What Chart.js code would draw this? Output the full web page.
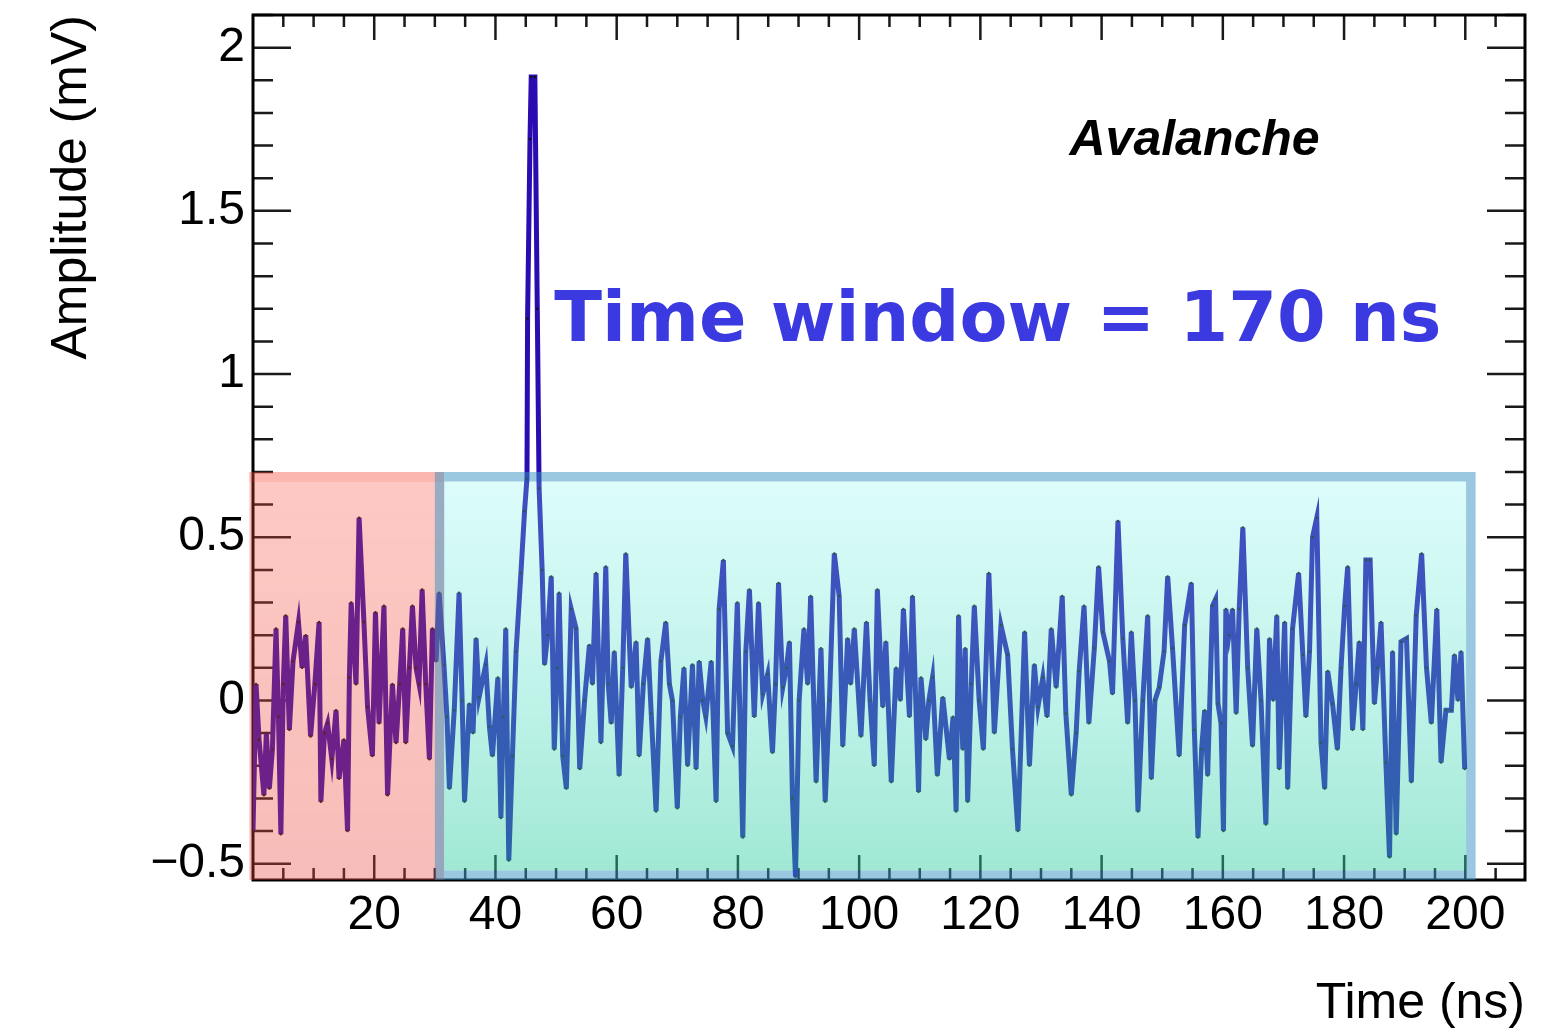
<!DOCTYPE html>
<html>
<head>
<meta charset="utf-8">
<script src="https://cdn.jsdelivr.net/npm/chart.js@4.4.1/dist/chart.umd.min.js"></script>
<style>
  html, body { margin: 0; padding: 0; background: #ffffff; }
  #wrap { width: 1568px; height: 1029px; position: relative; }
</style>
</head>
<body>
<div id="wrap"><canvas id="c"></canvas></div>
<script>
// ---------------- DATA ----------------
const timeNs = [
  0, 0.5, 1.0, 1.8, 2.2, 2.7, 3.2, 3.8, 4.2, 4.6, 5.0, 5.4, 6.0, 6.6, 7.5, 8.1, 8.7, 9.5, 10.2, 10.9,
  11.2, 11.8, 12.3, 13.0, 13.7, 14.2, 15.0, 15.6, 15.9, 16.2, 17.0, 17.5, 18.3, 18.9, 19.7, 20.2, 20.8, 21.6, 22.2, 23.0,
  23.6, 24.2, 24.7, 25.2, 25.8, 26.3, 26.9, 27.4, 27.9, 28.5, 29.1, 29.6, 30.2,
  30.7, 31.5, 32.0, 32.4, 33.2, 34.0, 34.5, 34.9, 35.7, 36.3, 36.8, 37.3, 38.4, 39.0, 39.5, 40.4, 40.9, 41.3, 41.7, 42.2,
  42.8, 43.4, 44.2, 44.8, 45.2, 45.3, 45.7, 45.9, 46.5, 46.9, 47.2, 47.7, 48.1, 48.6, 49.2, 49.7, 50.2, 50.5, 51.1, 51.7,
  52.5, 53.3, 53.9, 54.7, 55.5, 56.0, 56.6, 57.4, 58.2, 58.6, 59.1, 59.6, 60.4, 61.0, 61.5, 62.4, 63.2, 63.7, 64.4, 65.1,
  65.7, 66.5, 67.3, 68.1, 68.7, 69.2, 70.0, 70.5, 71.1, 71.7, 72.5, 73.1, 73.6, 74.2, 74.7, 75.6, 76.4, 76.9, 77.6, 78.3,
  79.1, 79.9, 80.8, 81.3, 81.9, 82.7, 83.4, 84.1, 84.9, 85.7, 86.2, 86.7, 87.4, 88.0, 88.5, 89.0, 89.5, 90.1, 90.9, 91.5,
  92.0, 92.9, 93.7, 94.4, 95.1, 95.9, 96.7, 97.3, 98.1, 98.6, 99.2, 100.3, 101.2, 101.8, 102.5, 103.0,
  103.9, 104.4, 105.3, 106.1, 106.8, 107.3, 108.3, 108.8, 109.8, 110.2, 111.0, 111.5, 112.1, 112.9, 113.8, 114.9, 115.5, 116.0, 116.4, 117.1,
  117.5, 117.9, 118.5, 119.0, 119.8, 120.5, 121.4, 122.3, 123.4, 124.5, 125.3, 126.2, 127.3, 128.1, 128.9, 129.5, 130.3, 131.0, 131.7, 132.5,
  133.5, 134.1, 135.0, 135.8, 136.3, 137.1, 137.9, 138.8, 139.5, 140.2, 141.3, 141.8, 142.7, 143.5, 144.3, 144.9, 145.5, 146.0, 146.8, 147.6,
  148.2, 148.8, 149.5, 150.3, 150.9, 151.7, 152.8, 153.7, 154.8, 155.3, 155.9, 156.5, 157.0, 157.5,
  158.3, 158.8, 159.2, 159.7, 160.1, 160.5, 161.0, 161.6, 162.2, 162.7, 163.3, 164.1, 164.9, 165.6, 166.3, 167.1, 167.7, 168.3, 168.9, 169.3,
  170.2, 170.7, 171.5, 172.5, 173.2, 173.7, 174.3, 174.8, 175.5, 176.2, 176.8, 177.3, 178.1, 178.9, 179.5, 180.1, 180.6, 181.4, 182.0, 182.5,
  183.1, 183.6, 184.3, 185.0, 185.5, 186.1, 186.9, 187.5, 188.0, 188.6, 189.4, 190.3, 191.1, 191.9, 192.8, 193.6, 194.4, 195.3, 196.0, 196.8,
  197.7, 198.2, 198.8, 199.3, 199.9
];
const amplitudeMv = [
  -0.40, 0.05, -0.12, -0.29, -0.10, -0.27, -0.15, 0.22, -0.05, -0.41, 0.05, 0.26, -0.09, 0.12, 0.24, 0.10, 0.20, -0.11, 0.05, 0.24,
  -0.31, -0.10, -0.07, -0.18, -0.03, -0.24, -0.12, -0.40, 0.07, 0.30, 0.05, 0.56, 0.24, -0.02, -0.17, 0.27, -0.07, 0.29, -0.29, 0.05,
  -0.13, 0.05, 0.22, -0.13, 0.10, 0.29, 0.10, 0.05, 0.34, 0.05, -0.18, 0.22, 0.12,
  0.33, 0.11, -0.05, -0.27, -0.03, 0.33, 0.00, -0.31, -0.01, -0.10, 0.19, 0.01, 0.11, -0.08, -0.17, 0.07, -0.36, -0.05, 0.22, -0.49,
  -0.17, 0.15, 0.39, 0.58, 0.68, 1.17, 1.72, 1.91, 1.91, 1.20, 0.65, 0.40, 0.11, 0.20, 0.38, -0.15, 0.10, 0.33, -0.17, -0.27,
  0.28, 0.22, -0.21, 0.00, 0.17, 0.05, 0.39, -0.13, 0.41, 0.05, -0.07, 0.15, -0.23, 0.10, 0.45, 0.04, 0.18, -0.17, 0.05, 0.19,
  -0.04, -0.34, 0.12, 0.24, 0.05, 0.00, -0.33, -0.05, 0.10, -0.20, 0.11, -0.21, 0.12, 0.00, -0.05, 0.12, -0.31, 0.28, 0.43, -0.10,
  -0.14, 0.30, -0.42, 0.15, 0.34, -0.05, 0.30, 0.02, 0.08, -0.16, 0.05, 0.36, 0.04, 0.10, 0.18, -0.30, -0.54, 0.00, 0.22, 0.05,
  0.32, -0.25, 0.16, -0.31, 0.00, 0.45, 0.32, -0.14, 0.19, 0.05, 0.22, -0.11, 0.24, 0.00, -0.20, 0.34,
  -0.02, 0.18, -0.25, 0.10, 0.00, 0.28, -0.05, 0.32, -0.28, 0.07, -0.12, 0.00, 0.07, -0.23, 0.01, -0.18, -0.05, -0.34, 0.26, -0.15,
  0.16, -0.31, 0.05, 0.29, 0.00, -0.15, 0.39, -0.10, 0.23, 0.14, -0.15, -0.40, 0.21, -0.20, 0.11, -0.02, 0.07, -0.05, 0.22, 0.04,
  0.32, -0.04, -0.29, -0.10, 0.09, 0.29, -0.07, 0.16, 0.41, 0.21, 0.12, 0.02, 0.55, 0.19, -0.07, 0.21, 0.00, -0.34, 0.00, 0.26,
  -0.24, 0.00, 0.04, 0.15, 0.38, 0.16, -0.17, 0.23, 0.36, -0.09, -0.42, -0.15, -0.03, -0.23,
  0.29, 0.31, -0.01, -0.07, -0.40, 0.28, 0.20, 0.28, -0.04, 0.28, 0.53, 0.10, -0.14, 0.22, 0.00, -0.38, 0.19, 0.00, 0.26, -0.21,
  0.24, -0.27, 0.22, 0.39, 0.14, -0.05, 0.15, 0.50, 0.56, -0.13, -0.27, 0.09, -0.01, -0.15, 0.10, 0.29, 0.41, -0.09, 0.05, 0.18,
  -0.09, 0.43, 0.43, -0.01, 0.10, 0.24, -0.19, -0.48, 0.15, -0.41, 0.18, 0.19, -0.25, 0.26, 0.45, 0.10, -0.07, 0.28, -0.19, -0.03,
  -0.03, 0.14, 0.00, 0.15, -0.21
];
const xTickLabels = [20, 40, 60, 80, 100, 120, 140, 160, 180, 200];
const yTickLabels = [-0.5, 0, 0.5, 1, 1.5, 2];
const xRange = [0, 209.85];
const yRange = [-0.55, 2.1];
// highlighted windows (data units: ns, mV)
const baselineWindow = [-0.6, 31.5, -0.55, 0.70];
const signalWindow = [30.0, 201.7, -0.55, 0.70];
// annotation anchors (data units)
const avalancheText = { label: 'Avalanche', t: 134.7, v: 1.67 };
const windowText = { label: 'Time window = 170 ns', t: 49.7, v: 1.10 };

// ---------------- CHART ----------------
const points = timeNs.map((t, i) => ({ x: t, y: amplitudeMv[i] }));
const fmt = v => (v < 0 ? '\u2212' + String(Math.abs(v)) : String(v));

const deco = {
  id: 'deco',
  beforeDatasetsDraw(chart) {
    const { ctx, chartArea: a, scales: { x, y } } = chart;
    ctx.save();
    ctx.strokeStyle = '#1a1a1a';
    ctx.lineWidth = 2.5;
    ctx.beginPath();
    for (let i = 1; i * 5 < xRange[1]; i++) {
      const t = i * 5;
      const px = x.getPixelForValue(t);
      const len = (t % 20 === 0) ? 25 : 12;
      ctx.moveTo(px, a.bottom); ctx.lineTo(px, a.bottom - len);
      ctx.moveTo(px, a.top); ctx.lineTo(px, a.top + len);
    }
    for (let i = 0; ; i++) {
      const v = -0.5 + i * 0.1;
      if (v > yRange[1] + 1e-9) break;
      const py = y.getPixelForValue(v);
      const len = (i % 5 === 0) ? 38 : 20;
      ctx.moveTo(a.left, py); ctx.lineTo(a.left + len, py);
      ctx.moveTo(a.right, py); ctx.lineTo(a.right - len, py);
    }
    ctx.stroke();
    ctx.lineWidth = 3;
    ctx.strokeStyle = '#000';
    ctx.strokeRect(a.left, a.top, a.right - a.left, a.bottom - a.top);
    ctx.restore();
  },
  afterDatasetsDraw(chart) {
    const { ctx, scales: { x, y } } = chart;
    ctx.save();
    // baseline (pink) window
    {
      const x0 = x.getPixelForValue(baselineWindow[0]), x1 = x.getPixelForValue(baselineWindow[1]);
      const y1 = y.getPixelForValue(baselineWindow[3]), y0 = y.getPixelForValue(baselineWindow[2]);
      const g = ctx.createLinearGradient(0, y1, 0, y0);
      g.addColorStop(0, 'rgba(248,75,58,0.30)');
      g.addColorStop(1, 'rgba(232,70,60,0.36)');
      ctx.fillStyle = g;
      ctx.fillRect(x0, y1, x1 - x0, y0 - y1);
      ctx.fillStyle = 'rgba(248,75,58,0.15)';
      ctx.fillRect(x0, y1, x1 - x0, 10);
    }
    // signal (teal) window
    {
      const x0 = x.getPixelForValue(signalWindow[0]), x1 = x.getPixelForValue(signalWindow[1]);
      const y1 = y.getPixelForValue(signalWindow[3]), y0 = y.getPixelForValue(signalWindow[2]);
      const b = 9.5;
      const g = ctx.createLinearGradient(0, y1 + b, 0, y0 - b);
      g.addColorStop(0, 'rgba(126,244,237,0.27)');
      g.addColorStop(1, 'rgba(44,204,160,0.45)');
      ctx.fillStyle = g;
      ctx.fillRect(x0 + b, y1 + b, x1 - x0 - 2 * b, y0 - y1 - 2 * b);
      ctx.fillStyle = 'rgba(53,145,193,0.5)';
      ctx.beginPath();
      ctx.rect(x0, y1, x1 - x0, y0 - y1);
      ctx.rect(x0 + b, y0 - b, x1 - x0 - 2 * b, -(y0 - y1 - 2 * b));
      ctx.fill('evenodd');
    }
    ctx.restore();
  },
  afterDraw(chart) {
    const { ctx, scales: { x, y } } = chart;
    ctx.save();
    ctx.textBaseline = 'alphabetic';
    ctx.textAlign = 'left';
    ctx.fillStyle = '#000';
    ctx.font = 'italic bold 50px "Liberation Sans", Arial, sans-serif';
    ctx.fillText(avalancheText.label, x.getPixelForValue(avalancheText.t), y.getPixelForValue(avalancheText.v));
    ctx.fillStyle = '#3b3ae0';
    ctx.font = 'bold 70px "DejaVu Sans", sans-serif';
    ctx.fillText(windowText.label, x.getPixelForValue(windowText.t), y.getPixelForValue(windowText.v));
    ctx.restore();
  }
};

new Chart(document.getElementById('c'), {
  type: 'line',
  data: {
    datasets: [{
      data: points,
      borderColor: '#2a0cb0',
      borderWidth: 5,
      tension: 0,
      pointRadius: 1.3,
      pointBorderWidth: 0,
      pointBackgroundColor: '#111111',
      fill: false
    }]
  },
  options: {
    responsive: true,
    maintainAspectRatio: false,
    animation: false,
    events: [],
    layout: { padding: { left: 0, right: 43, top: 15, bottom: 0 } },
    plugins: { legend: { display: false }, tooltip: { enabled: false } },
    scales: {
      x: {
        type: 'linear',
        position: 'bottom',
        min: xRange[0], max: xRange[1],
        grid: { display: false, drawTicks: false },
        border: { display: false },
        afterBuildTicks: s => { s.ticks = xTickLabels.map(v => ({ value: v })); },
        afterFit: s => { s.height = 149; s.paddingLeft = 0; s.paddingRight = 0; },
        ticks: {
          autoSkip: false, maxRotation: 0, padding: 7, color: '#000',
          font: { family: '"Liberation Sans", Arial, sans-serif', size: 48 },
          callback: v => fmt(v)
        },
        title: {
          display: true, text: 'Time (ns)', align: 'end', color: '#000',
          font: { family: '"Liberation Sans", Arial, sans-serif', size: 50, lineHeight: 1.0 },
          padding: { top: 0, bottom: 0 }
        }
      },
      y: {
        type: 'linear',
        position: 'left',
        min: yRange[0], max: yRange[1],
        grid: { display: false, drawTicks: false },
        border: { display: false },
        afterBuildTicks: s => { s.ticks = yTickLabels.map(v => ({ value: v })); },
        afterFit: s => { s.width = 253; s.paddingTop = 0; s.paddingBottom = 0; },
        ticks: {
          autoSkip: false, padding: 8, color: '#000',
          font: { family: '"Liberation Sans", Arial, sans-serif', size: 48 },
          callback: v => fmt(v)
        },
        title: {
          display: true, text: 'Amplitude (mV)', align: 'end', color: '#000',
          font: { family: '"Liberation Sans", Arial, sans-serif', size: 50 },
          padding: { top: 42, bottom: 0 }
        }
      }
    }
  },
  plugins: [deco]
});
</script>
</body>
</html>
